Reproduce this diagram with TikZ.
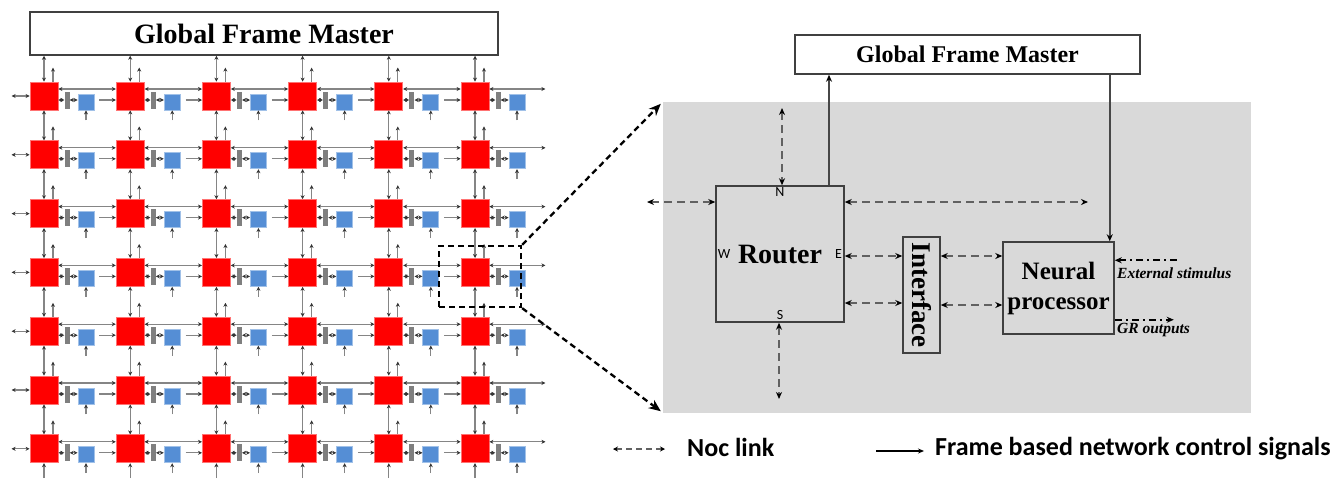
\documentclass[tikz,border=0pt]{standalone}
\usepackage{fontspec}
\setmainfont{Liberation Serif}
\newfontfamily\calib{Carlito}
\usetikzlibrary{arrows.meta}
\definecolor{routerred}{HTML}{FF0000}
\definecolor{peblue}{HTML}{558ED5}
\definecolor{bargray}{HTML}{7F7F7F}
\definecolor{panelgray}{HTML}{D9D9D9}

\begin{document}
\begin{tikzpicture}[x=1pt,y=-1pt,>={Stealth[length=4pt,width=4pt,black!80]},
  router/.style={fill=routerred,draw=red!55,line width=.8pt,minimum size=28pt,inner sep=0pt},
  pe/.style={fill=peblue,draw=peblue!55,line width=.8pt,minimum size=16pt,inner sep=0pt},
  bar/.style={fill=bargray,minimum width=5pt,minimum height=17pt,inner sep=0pt},
  mesh/.style={draw=black!48,line width=1.3pt},
  box/.style={draw=black!75,line width=1.5pt,inner sep=0pt,font=\bfseries},
  port/.style={font=\calib\fontsize{14}{14}\selectfont,inner sep=2.5pt},
  noc/.style={draw=black!62,line width=2pt,dash pattern=on 8pt off 5pt,>={Stealth[length=7pt,width=6pt,black]},<->},
  cntl/.style={draw=black!72,line width=1.6pt,>={Stealth[length=7pt,width=6pt,black]},->},
  ext/.style={draw=black,line width=1.6pt,dash pattern=on 7pt off 4pt on 2pt off 4pt,>={Stealth[length=7pt,width=6pt]}},
  zoomline/.style={draw=black,line width=2.3pt,dash pattern=on 6pt off 4pt},
  note/.style={font=\bfseries\itshape\fontsize{15.5}{15.5}\selectfont,anchor=west,inner sep=0pt},
  legend/.style={font=\calib\bfseries\fontsize{26}{26}\selectfont,anchor=west,inner sep=0pt}]
\useasboundingbox (0,0) rectangle (1337,480);

\node[box,minimum width=468pt,minimum height=43pt,font=\bfseries\fontsize{28}{28}\selectfont] (gfmL) at (264,33.5) {Global Frame Master};

\foreach \i in {0,...,5}{
  \foreach \j in {0,...,6}{
    \node[router] (r\i\j) at ({44+86.2*\i},{96+58.8*\j}) {};
    \node[bar] (g\i\j) at ({67+86.2*\i},{100+58.8*\j}) {};
    \node[pe] (b\i\j) at ({86+86.2*\i},{102+58.8*\j}) {};
  }
}
\foreach \i in {0,...,5}{
  \foreach \j in {0,...,6}{
    \pgfmathtruncatemacro{\n}{\i+1}
    \pgfmathtruncatemacro{\m}{\j+1}
    \draw[mesh,<->] (r\i\j.east |- g\i\j) -- (g\i\j.west);
    \draw[mesh,<->] (g\i\j.east) -- (b\i\j.west |- g\i\j.east);
    \draw[mesh,->] ([yshift=-10pt]b\i\j.south) -- (b\i\j.south);
    \draw[mesh,->] ([xshift=9pt]r\i\j.north) -- ++(0,-14);
    \ifnum\i<5
      \draw[mesh,<->] ([yshift=7pt]r\i\j.east) -- ([yshift=7pt]r\n\j.west);
      \draw[mesh,->] ([xshift=5pt]b\i\j.east |- g\i\j) -- (r\n\j.west |- g\i\j);
    \else
      \draw[mesh,<->] ([yshift=7pt]r\i\j.east) -- ++(56,0);
    \fi
    \ifnum\j<6
      \draw[mesh,<->] (r\i\j.south) -- (r\i\m.north);
    \else
      \draw[mesh,->] ([yshift=-15pt]r\i\j.south) -- (r\i\j.south);
    \fi
    \ifnum\j=0
      \draw[mesh,<->] (r\i\j.north |- gfmL.south) -- (r\i\j.north);
    \fi
    \ifnum\i=0
      \draw[mesh,<->] ([xshift=-18pt]r\i\j.west) -- (r\i\j.west);
    \fi
  }
}

\node[fill=panelgray,minimum width=588pt,minimum height=311pt,inner sep=0pt] (panel) at (957,257.5) {};
\node[zoomline,minimum width=82pt,minimum height=61pt,inner sep=0pt] (zoom) at (480,276.5) {};
\draw[zoomline,-{Stealth[length=12pt,width=10pt]}] (zoom.north east) -- ([shift={(-2pt,-2pt)}]panel.north west);
\draw[zoomline,-{Stealth[length=12pt,width=10pt]}] (zoom.south east) -- ([shift={(-2pt,2pt)}]panel.south west);

\node[box,fill=white,minimum width=345pt,minimum height=39pt,font=\bfseries\fontsize{24}{24}\selectfont] (gfmR) at (967.5,54.5) {Global Frame Master};
\node[box,minimum width=128pt,minimum height=136pt,font=\bfseries\fontsize{28}{28}\selectfont] (router) at (780,254) {Router};
\node[port,below] (portN) at (router.north) {N};
\node[port,above] (portS) at (router.south) {S};
\node[port,right] (portW) at (router.west) {W};
\node[port,left] (portE) at (router.east) {E};
\node[box,minimum width=37pt,minimum height=116pt,font=\bfseries\fontsize{27}{27}\selectfont] (intf) at (921.5,295) {\rotatebox{-90}{Interface}};
\node[box,minimum width=111pt,minimum height=92pt,align=center,font=\bfseries\fontsize{25}{30}\selectfont] (neural) at (1058.5,288) {Neural\\processor};

\draw[cntl] ([xshift=49pt]router.north) -- ([xshift=49pt]router.north |- gfmR.south);
\draw[cntl] ([xshift=-5pt]neural.north east |- gfmR.south) -- ([xshift=-5pt]neural.north east);

\coordinate (nfree) at (782,108);
\coordinate (sfree) at (779,399);
\coordinate (wfree) at (647,202);
\coordinate (efree) at (1088,202);
\draw[noc] (nfree) -- (nfree |- router.north);
\draw[noc] (sfree |- router.south) -- (sfree);
\draw[noc] (wfree) -- (wfree -| router.west);
\draw[noc] (efree -| router.east) -- (efree);
\draw[noc] ([yshift=-2pt]router.east) -- ([yshift=-2pt]router.east -| intf.west);
\draw[noc] ([yshift=-49pt]router.east) -- ([yshift=-49pt]router.east -| intf.west);
\draw[noc] ([yshift=-2pt]router.east -| intf.east) -- ([yshift=-2pt]router.east -| neural.west);
\draw[noc] ([yshift=-51pt]router.east -| intf.east) -- ([yshift=-51pt]router.east -| neural.west);

\draw[ext,<-] ([yshift=-19pt]neural.north east) -- ++(62,0);
\node[note] (stim) at (1117,273) {External stimulus};
\draw[ext,->] ([yshift=15pt]neural.south east) -- ++(59,0);
\node[note] (grout) at (1117,330) {GR outputs};

\node[legend] (noclbl) at (687,447) {Noc link};
\draw[noc,line width=1.3pt,dash pattern=on 6pt off 4pt,>={Stealth[length=5pt,width=5pt,black]}] ([xshift=-74pt,yshift=-2pt]noclbl.west) -- ([xshift=-22pt,yshift=-2pt]noclbl.west);
\node[legend] (ctllbl) at (935,449) {Frame based network control signals};
\draw[cntl,line width=1.6pt,draw=black,>={Stealth[length=6pt,width=5pt]}] ([xshift=-59pt,yshift=-2pt]ctllbl.west) -- ([xshift=-11pt,yshift=-2pt]ctllbl.west);
\end{tikzpicture}
\end{document}
